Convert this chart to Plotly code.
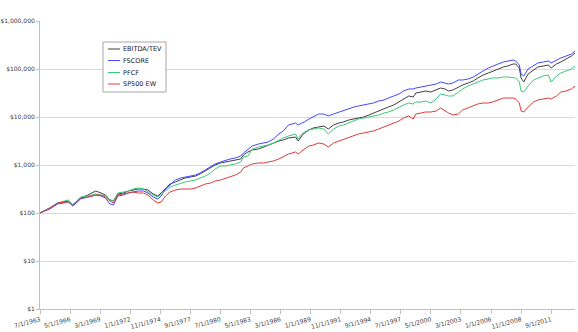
import plotly.graph_objects as go

# Monthly observation dates (YYYY-MM) and growth of $100 for each strategy
dates = [
    "1963-07", "1964-06", "1965-03", "1966-03", "1966-08", "1967-05", "1968-01", "1968-10", "1969-04", "1969-09",
    "1970-02", "1970-06", "1970-11", "1971-05", "1971-11", "1972-04", "1972-10", "1973-04", "1973-09", "1974-03",
    "1974-08", "1974-12", "1975-05", "1975-10", "1976-04", "1976-10", "1977-03", "1977-09", "1978-03", "1978-08",
    "1979-02", "1979-08", "1980-01", "1980-07", "1981-01", "1981-06", "1981-12", "1982-06", "1982-09", "1983-02",
    "1983-07", "1984-02", "1984-08", "1985-01", "1985-07", "1986-01", "1986-06", "1986-12", "1987-08", "1987-11",
    "1988-03", "1988-06", "1988-11", "1989-04", "1989-10", "1990-04", "1990-09", "1991-03", "1991-09", "1992-02",
    "1992-08", "1993-02", "1993-07", "1994-01", "1994-07", "1994-12", "1995-06", "1995-12", "1996-05", "1996-11",
    "1997-05", "1997-10", "1998-04", "1998-09", "1998-12", "1999-06", "1999-11", "2000-05", "2000-11", "2001-04",
    "2001-09", "2002-01", "2002-06", "2002-12", "2003-05", "2003-11", "2004-05", "2004-10", "2005-04", "2005-10",
    "2006-03", "2006-09", "2007-03", "2007-08", "2008-02", "2008-05", "2008-09", "2008-11", "2009-02", "2009-07",
    "2010-01", "2010-06", "2010-12", "2011-06", "2011-09", "2012-03", "2012-08", "2013-02", "2013-08", "2013-12",
]

ebitda_tev = [
    100, 127, 162, 178, 147, 205, 237, 287, 261, 237,
    187, 178, 249, 261, 287, 301, 316, 316, 301, 249,
    226, 261, 332, 402, 442, 487, 536, 562, 590, 649,
    750, 866, 1000, 1101, 1155, 1212, 1271, 1334, 1616, 1866,
    2054, 2154, 2371, 2610, 2873, 3162, 3318, 3652, 3831, 3162,
    4020, 4642, 5360, 5900, 6190, 6494, 5623, 6813, 7499, 7868,
    8660, 9085, 9532, 10000, 11010, 12120, 13340, 14680, 16160, 17780,
    20540, 23710, 27380, 26100, 31620, 33180, 34810, 33180, 36520, 40200,
    38310, 34810, 36520, 42170, 46420, 51090, 56230, 64940, 74990, 82540,
    90850, 100000, 110100, 115500, 127100, 127100, 104900, 64940, 53600, 78680,
    95320, 110100, 115500, 121200, 104900, 127100, 139900, 161600, 186600, 215400,
]

fscore = [
    100, 121, 154, 170, 140, 196, 215, 237, 226, 205,
    154, 147, 226, 237, 261, 274, 287, 287, 261, 215,
    196, 226, 316, 383, 487, 536, 562, 590, 619, 681,
    787, 909, 1049, 1155, 1271, 1334, 1399, 1540, 1778, 2154,
    2488, 2738, 2873, 3014, 3481, 4424, 5109, 6813, 7499, 6813,
    7499, 7868, 9085, 10000, 11550, 11550, 10490, 11550, 12710, 13340,
    14680, 16160, 16950, 17780, 18660, 19570, 21540, 22600, 24880, 27380,
    30140, 34810, 38310, 38310, 40200, 42170, 44240, 46420, 48700, 53600,
    51090, 48700, 51090, 59000, 59000, 61900, 68130, 78680, 90850, 104900,
    115500, 127100, 139900, 146800, 154000, 146800, 121200, 78680, 71480, 100000,
    115500, 133400, 139900, 146800, 133400, 154000, 169500, 186600, 205400, 237100,
]

pfcf = [
    100, 127, 162, 187, 147, 215, 226, 249, 237, 226,
    187, 178, 261, 274, 287, 316, 332, 316, 274, 237,
    215, 249, 301, 348, 383, 422, 442, 464, 487, 536,
    590, 681, 825, 953, 953, 1000, 1049, 1155, 1468, 1540,
    2154, 2371, 2488, 2610, 2873, 3318, 3652, 4020, 4424, 3481,
    4424, 4870, 5360, 5623, 5900, 5623, 4424, 5623, 6494, 6813,
    7499, 8254, 9085, 9532, 10000, 10490, 11010, 12120, 12710, 13990,
    16160, 17780, 19570, 18660, 20540, 20540, 21540, 19570, 23710, 30140,
    28730, 27380, 27380, 33180, 38310, 44240, 48700, 53600, 59000, 61900,
    64940, 64940, 68130, 68130, 64940, 64940, 53600, 34810, 33180, 44240,
    59000, 64940, 71480, 74990, 53600, 71480, 82540, 90850, 100000, 115500,
]

sp500_ew = [
    100, 127, 162, 170, 147, 205, 215, 237, 237, 215,
    178, 162, 237, 249, 261, 274, 261, 261, 237, 187,
    162, 170, 226, 274, 301, 316, 316, 316, 332, 365,
    402, 422, 464, 487, 536, 562, 619, 715, 866, 953,
    1049, 1101, 1101, 1155, 1212, 1334, 1468, 1695, 1866, 1695,
    1957, 2154, 2488, 2610, 2873, 2738, 2371, 2873, 3162, 3318,
    3652, 4020, 4424, 4642, 4870, 5109, 5623, 6190, 6813, 7499,
    8254, 9532, 10490, 9085, 11550, 12120, 12710, 12710, 13340, 15400,
    13340, 12120, 11010, 11550, 13990, 15400, 16950, 18660, 19570, 19570,
    20540, 22600, 24880, 24880, 24880, 23710, 19570, 13340, 12710, 16160,
    20540, 22600, 23710, 24880, 23710, 27380, 33180, 34810, 38310, 44240,
]

series_names = ["EBITDA/TEV", "FSCORE", "PFCF", "SP500 EW"]
series_values = [ebitda_tev, fscore, pfcf, sp500_ew]
series_colors = ["#404040", "#4646ff", "#3cc87a", "#e03a3a"]

x_tick_dates = [
    "1963-07-01", "1966-05-01", "1969-03-01", "1972-01-01", "1974-11-01", "1977-09-01",
    "1980-07-01", "1983-05-01", "1986-03-01", "1989-01-01", "1991-11-01", "1994-09-01",
    "1997-07-01", "2000-05-01", "2003-03-01", "2006-01-01", "2008-11-01", "2011-09-01",
]
x_tick_labels = [
    "7/1/1963", "5/1/1966", "3/1/1969", "1/1/1972", "11/1/1974", "9/1/1977",
    "7/1/1980", "5/1/1983", "3/1/1986", "1/1/1989", "11/1/1991", "9/1/1994",
    "7/1/1997", "5/1/2000", "3/1/2003", "1/1/2006", "11/1/2008", "9/1/2011",
]
y_tick_values = [1, 10, 100, 1000, 10000, 100000, 1000000]
y_tick_labels = ["$1", "$10", "$100", "$1,000", "$10,000", "$100,000", "$1,000,000"]

FONT = "DejaVu Sans"
TICK_SIZE = 6
W, H = 578, 332
M_L, M_R, M_T, M_B = 40, 3, 21, 23

fig = go.Figure()
for name, vals, color in zip(series_names, series_values, series_colors):
    fig.add_trace(go.Scatter(
        x=[d + "-01" for d in dates], y=vals, name=name, mode="lines",
        line=dict(color=color, width=1), showlegend=False,
    ))

# Legend drawn as a small boxed key, placed in page pixels
plot_w = W - M_L - M_R
plot_h = H - M_T - M_B


def px_x(px):
    return (px - M_L) / plot_w


def px_y(py):
    return (H - M_B - py) / plot_h


shapes = [dict(type="rect", xref="paper", yref="paper",
               x0=px_x(103), x1=px_x(166), y0=px_y(92), y1=px_y(42),
               line=dict(color="#a6a6a6", width=1), fillcolor="white", layer="above")]
annotations = []
row_y = [49, 60.5, 72.5, 84]
for name, color, ry in zip(series_names, series_colors, row_y):
    shapes.append(dict(type="line", xref="paper", yref="paper",
                       x0=px_x(108), x1=px_x(120), y0=px_y(ry), y1=px_y(ry),
                       line=dict(color=color, width=1), layer="above"))
    annotations.append(dict(xref="paper", yref="paper", x=px_x(121), y=px_y(ry),
                            text=name, showarrow=False, xanchor="left", yanchor="middle",
                            font=dict(family=FONT, size=6.5, color="#202020")))

fig.update_layout(
    width=W, height=H,
    margin=dict(l=M_L, r=M_R, t=M_T, b=M_B, pad=0, autoexpand=False),
    paper_bgcolor="white", plot_bgcolor="white",
    font=dict(family=FONT, size=TICK_SIZE, color="#404040"),
    shapes=shapes, annotations=annotations,
    xaxis=dict(
        type="date", range=["1963-07-01", "2013-12-01"], automargin=False,
        tickvals=x_tick_dates, ticktext=x_tick_labels, tickangle=-15,
        ticks="outside", ticklen=4, tickcolor="#bfbfbf",
        showline=True, linecolor="#bfbfbf", linewidth=1,
        showgrid=False, zeroline=False,
        tickfont=dict(family=FONT, size=TICK_SIZE, color="#404040"),
    ),
    yaxis=dict(
        type="log", range=[0, 6], automargin=False,
        tickvals=y_tick_values, ticktext=y_tick_labels,
        ticks="outside", ticklen=3, tickcolor="#bfbfbf",
        showline=True, linecolor="#bfbfbf", linewidth=1,
        showgrid=True, gridcolor="#d9d9d9", gridwidth=1, zeroline=False,
        tickfont=dict(family=FONT, size=TICK_SIZE, color="#404040"),
    ),
)

fig.write_html("out.html")
